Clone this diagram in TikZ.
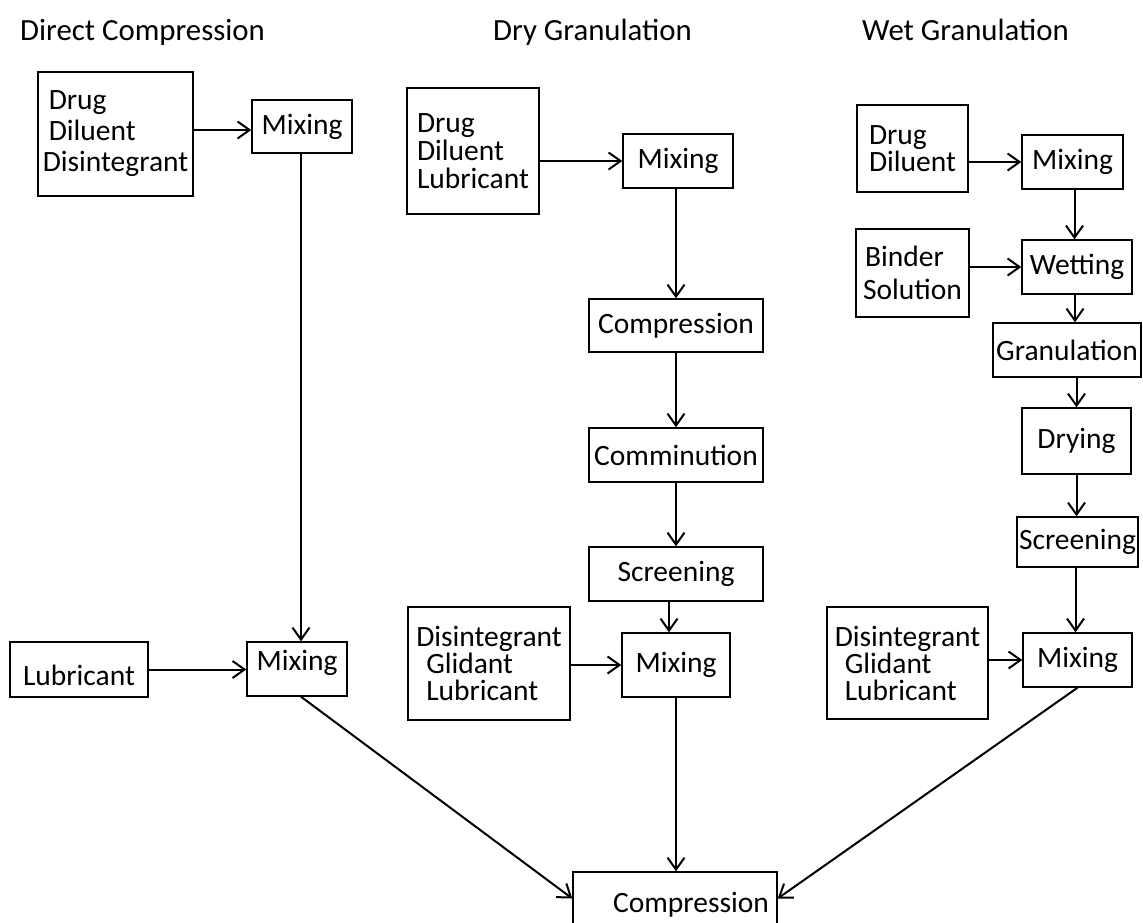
\documentclass[tikz,border=0pt]{standalone}
\usepackage{fontspec}
\setmainfont{Carlito}
\usetikzlibrary{arrows.meta}
\begin{document}
\begin{tikzpicture}[x=1pt,y=-1pt,
  box/.style={draw, line width=1.4pt, inner sep=0pt, font=\fontsize{29.5}{30}\selectfont},
  multi/.style={box, align=left},
  ttl/.style={anchor=base west, inner sep=0pt, font=\fontsize{30.8}{31}\selectfont},
  arr/.style={line width=2pt, -{Straight Barb[length=12pt,width=17pt,line width=2pt]}},
  ln/.style={line width=2pt}]
\useasboundingbox (0,0) rectangle (1143,922);
% titles
\node[ttl] (t1) at (20,40) {Direct Compression};
\node[ttl] (t2) at (493,40) {Dry Granulation};
\node[ttl] (t3) at (862,40) {Wet Granulation};
% direct compression
\node[multi, minimum width=155pt, minimum height=124pt, font=\fontsize{29.5}{31}\selectfont] (A1) at (115.5,134) {\hspace*{6pt}Drug\\\hspace*{6pt}Diluent\\Disintegrant};
\node[box, minimum width=100pt, minimum height=53pt] (M1) at (302,126.5) {Mixing};
\node[box, minimum width=138pt, minimum height=55pt] (LB) at (79,669.5) {\smash{\raisebox{-16pt}{Lubricant}}};
\node[box, minimum width=100pt, minimum height=54pt] (M2) at (297,669) {\smash{\raisebox{-1.5pt}{Mixing}}};
% dry granulation
\node[multi, minimum width=132pt, minimum height=126pt, font=\fontsize{29.5}{28}\selectfont] (B1) at (473,151) {Drug\\Diluent\\Lubricant};
\node[box, minimum width=110pt, minimum height=54pt] (M3) at (678,161) {Mixing};
\node[box, minimum width=174pt, minimum height=53pt] (DC) at (676,325.5) {Compression};
\node[box, minimum width=174pt, minimum height=54pt] (CM) at (676,455) {Comminution};
\node[box, minimum width=174pt, minimum height=54pt] (S1) at (676,574) {Screening};
\node[multi, minimum width=162pt, minimum height=113pt, font=\fontsize{29.5}{27}\selectfont] (B2) at (489,663.5) {Disintegrant\\\hspace*{10pt}Glidant\\\hspace*{10pt}Lubricant};
\node[box, minimum width=108pt, minimum height=64pt] (M4) at (676,665) {Mixing};
% wet granulation
\node[multi, minimum width=111pt, minimum height=87pt, font=\fontsize{29.5}{27}\selectfont] (C1) at (912.5,148.5) {Drug\\Diluent};
\node[box, minimum width=101pt, minimum height=54pt] (M5) at (1072.5,162) {Mixing};
\node[multi, minimum width=113pt, minimum height=88pt, font=\fontsize{29.5}{33}\selectfont] (BS) at (912.5,273) {\hspace*{2pt}Binder\\Solution};
\node[box, minimum width=110pt, minimum height=54pt] (WT) at (1077,267) {Wetting};
\node[box, minimum width=148pt, minimum height=54pt] (GR) at (1067,350) {Granulation};
\node[box, minimum width=109pt, minimum height=66pt] (DR) at (1076.5,441) {\raisebox{-3pt}{Drying}};
\node[box, minimum width=121pt, minimum height=50pt] (S2) at (1077.5,542) {Screening};
\node[multi, minimum width=161pt, minimum height=112pt, font=\fontsize{29.5}{27}\selectfont] (C2) at (907.5,663) {Disintegrant\\\hspace*{10pt}Glidant\\\hspace*{10pt}Lubricant};
\node[box, minimum width=109pt, minimum height=54pt] (M6) at (1077.5,660) {Mixing};
% final
\node[box, minimum width=204pt, minimum height=53pt] (FC) at (675,898.5) {\hspace*{32pt}\smash{\raisebox{-14pt}{Compression}}};
% connectors direct
\draw[arr] ([yshift=4pt]A1.east) -- ([yshift=4pt]A1.east -| M1.west);
\draw[arr] ([xshift=-1pt]M1.south) -- ([xshift=-1pt]M1.south |- M2.north);
\draw[arr] (LB.east) -- (LB.east -| M2.west);
\draw[arr] ([xshift=4pt]M2.south) -- (FC.west);
% connectors dry
\draw[arr] (B1.east |- M3.west) -- (M3.west);
\draw[arr] (DC.north |- M3.south) -- (DC.north);
\draw[arr] (DC.south) -- (CM.north);
\draw[arr] (CM.south) -- (S1.north);
\draw[arr] ([xshift=-7pt]S1.south) -- ([xshift=-7pt]S1.south |- M4.north);
\draw[arr] (B2.east |- M4.west) -- (M4.west);
\draw[arr] (M4.south) -- (M4.south |- FC.north);
% connectors wet
\draw[arr] (C1.east |- M5.west) -- (M5.west);
\draw[arr] ([xshift=2pt]M5.south) -- ([xshift=2pt]M5.south |- WT.north);
\draw[arr] (BS.east |- WT.west) -- (WT.west);
\draw[arr] ([xshift=-2pt]WT.south) -- ([xshift=-2pt]WT.south |- GR.north);
\draw[arr] (DR.north |- GR.south) -- (DR.north);
\draw[arr] (DR.south) -- (DR.south |- S2.north);
\draw[arr] ([xshift=-2pt]S2.south) -- ([xshift=-2pt]S2.south |- M6.north);
\draw[arr] (C2.east |- M6.west) -- (M6.west);
\draw[arr] (M6.south) -- (FC.east);
\end{tikzpicture}
\end{document}
